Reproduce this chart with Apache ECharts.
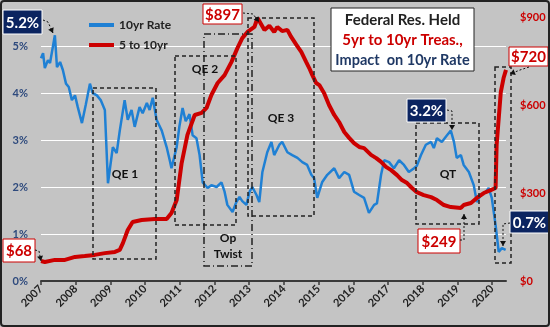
<!DOCTYPE html>
<html><head><meta charset="utf-8">
<script src="https://cdn.jsdelivr.net/npm/echarts@6/dist/echarts.min.js"></script>
<style>html,body{margin:0;padding:0;background:#fff}#c{width:550px;height:327px}</style>
</head><body><div id="c"></div>
<script>
// ---- data ----
const rateYears = [2007.00,2007.06,2007.11,2007.20,2007.26,2007.40,2007.46,2007.55,2007.63,2007.72,2007.80,2007.89,2007.98,2008.06,2008.18,2008.29,2008.41,2008.49,2008.61,2008.72,2008.84,2008.93,2009.07,2009.18,2009.27,2009.41,2009.50,2009.61,2009.70,2009.84,2009.93,2010.05,2010.13,2010.22,2010.33,2010.48,2010.62,2010.71,2010.76,2010.91,2010.99,2011.08,2011.17,2011.28,2011.37,2011.48,2011.57,2011.66,2011.80,2011.91,2012.06,2012.20,2012.29,2012.37,2012.52,2012.63,2012.72,2012.80,2012.92,2013.01,2013.09,2013.21,2013.29,2013.38,2013.52,2013.64,2013.72,2013.87,2013.95,2014.10,2014.24,2014.39,2014.53,2014.67,2014.79,2014.87,2014.96,2015.10,2015.25,2015.45,2015.59,2015.74,2015.88,2016.02,2016.17,2016.31,2016.45,2016.60,2016.68,2016.80,2016.89,2017.03,2017.17,2017.32,2017.46,2017.60,2017.75,2017.83,2017.95,2018.09,2018.24,2018.32,2018.41,2018.55,2018.70,2018.81,2018.90,2018.98,2019.10,2019.18,2019.33,2019.47,2019.56,2019.67,2019.82,2019.90,2019.99,2020.10,2020.19,2020.28,2020.39];
const rateValues = [4.74,4.85,4.53,4.70,4.64,5.23,4.55,4.66,4.49,4.20,4.13,3.85,3.95,3.70,3.36,3.75,4.20,4.00,3.95,3.85,3.64,2.08,2.85,2.72,3.20,3.85,3.43,3.64,3.28,3.70,3.57,3.79,3.64,3.90,3.43,3.20,2.85,2.57,2.40,2.85,3.30,3.68,3.40,3.55,3.10,3.04,2.68,2.10,1.98,2.04,2.00,2.10,1.90,1.62,1.47,1.68,1.79,1.70,1.62,1.90,2.00,1.83,1.68,2.32,2.74,2.96,2.68,2.90,2.96,2.74,2.68,2.62,2.53,2.47,2.26,2.19,1.77,2.10,2.26,2.40,2.19,2.32,2.26,1.90,1.83,1.77,1.45,1.62,1.65,2.26,2.57,2.53,2.40,2.57,2.47,2.32,2.40,2.45,2.68,2.90,2.96,2.83,3.04,2.96,3.10,3.20,2.96,2.62,2.68,2.47,2.32,2.04,1.68,1.83,1.90,1.98,1.77,1.19,0.62,0.70,0.66];
const holdYears = [2007.00,2007.11,2007.40,2007.69,2007.98,2008.26,2008.55,2008.84,2009.13,2009.27,2009.36,2009.50,2009.64,2009.90,2010.28,2010.62,2010.76,2010.91,2011.05,2011.22,2011.43,2011.63,2011.77,2011.91,2012.09,2012.29,2012.49,2012.66,2012.80,2012.95,2013.15,2013.24,2013.44,2013.58,2013.72,2013.81,2013.95,2014.10,2014.21,2014.36,2014.50,2014.64,2014.73,2014.82,2014.93,2015.02,2015.16,2015.30,2015.45,2015.59,2015.74,2015.88,2016.02,2016.17,2016.31,2016.51,2016.66,2016.80,2016.94,2017.09,2017.26,2017.40,2017.55,2017.69,2017.83,2018.03,2018.24,2018.41,2018.61,2018.81,2019.10,2019.18,2019.39,2019.56,2019.76,2019.96,2020.10,2020.13,2020.25,2020.33,2020.40];
const holdValues = [68,65,72,72,82,85,89,95,99,106,129,174,201,208,211,211,232,276,400,498,566,573,590,634,675,702,747,794,828,849,866,897,856,870,849,866,852,856,832,805,781,747,726,702,675,668,640,600,566,542,508,488,470,457,453,430,419,406,389,378,361,344,334,317,303,293,286,276,259,252,249,259,266,283,300,310,317,464,644,692,720];
const xTicks = [2007,2008,2009,2010,2011,2012,2013,2014,2015,2016,2017,2018,2019,2020];
const leftTicks = [0,1,2,3,4,5];
const rightTicks = [0,300,600,900];

// ---- chart ----
const FONT = 'Lato';
const chart = echarts.init(document.getElementById('c'), null, {renderer:'canvas'});
const option = {
  backgroundColor: '#c4c4c4',
  animation: false,
  textStyle: {fontFamily: FONT},
  grid: {left: 41, right: 44, top: 0, bottom: 46, containLabel: false, outerBoundsMode: 'none'},
  legend: {
    orient: 'vertical', left: 84, top: 13, itemWidth: 25, itemHeight: 4, itemGap: 6,
    icon: 'rect',
    textStyle: {fontFamily: FONT, fontWeight: 'bold', fontSize: 12, color: '#222', lineHeight: 14},
    data: ['10yr Rate', '5 to 10yr']
  },
  xAxis: {
    type: 'value', min: 2007, max: 2020.4, interval: 1,
    axisLine: {show: true, lineStyle: {color: '#3a3a3a', width: 2}},
    axisTick: {show: true, length: 4, lineStyle: {color: '#3a3a3a', width: 1.5}, customValues: xTicks},
    axisLabel: {rotate: 45, margin: 6, fontFamily: FONT, fontWeight: 'bold', fontSize: 11, color: '#222',
      customValues: xTicks, formatter: v => String(v)},
    splitLine: {show: false}
  },
  yAxis: [{
    type: 'value', min: 0, max: 5.98, interval: 1,
    axisLine: {show: false}, axisTick: {show: false},
    axisLabel: {margin: 13, fontFamily: FONT, fontWeight: 'bold', fontSize: 11, color: '#2e4a7d',
      customValues: leftTicks, formatter: v => v + '%'},
    splitLine: {show: true, lineStyle: {color: '#ffffff', width: 1}}
  }, {
    type: 'value', min: 0, max: 958, interval: 300, position: 'right',
    name: 'Billion', nameLocation: 'middle', nameRotate: 90, nameGap: 33,
    nameTextStyle: {fontFamily: FONT, fontWeight: 'bold', fontSize: 11, color: '#cc0000'},
    axisLine: {show: false}, axisTick: {show: false},
    axisLabel: {margin: 14, fontFamily: FONT, fontWeight: 'bold', fontSize: 11, color: '#cc0000',
      customValues: rightTicks, formatter: v => '$' + v},
    splitLine: {show: false}
  }],
  series: [{
    name: '10yr Rate', type: 'line', yAxisIndex: 0, showSymbol: false, symbol: 'none',
    color: '#1f80d4', lineStyle: {width: 2.5, color: '#1f80d4'},
    data: rateYears.map((y, i) => [y, rateValues[i]])
  }, {
    name: '5 to 10yr', type: 'line', yAxisIndex: 1, showSymbol: false, symbol: 'none',
    color: '#cc0000', lineStyle: {width: 4, color: '#cc0000'},
    data: holdYears.map((y, i) => [y, holdValues[i]])
  }]
};
chart.setOption(option);

// ---- annotations (pixel layout) ----
const g = [];
function dashBox(x, y, w, h, dash) {
  g.push({type: 'rect', shape: {x, y, width: w, height: h}, z: 50,
    style: {fill: 'none', stroke: '#222', lineWidth: 1.5, lineDash: dash}});
}
function label(text, x, y, size, color, z) {
  g.push({type: 'text', x, y, z: z || 60, style: {text, fontFamily: FONT, fontWeight: 'bold', fontSize: size || 12,
    fill: color || '#111', align: 'center', verticalAlign: 'middle'}});
}
function valBox(text, x, y, w, h, navy) {
  g.push({type: 'rect', shape: {x, y, width: w, height: h}, z: 70,
    style: {fill: navy ? '#0b2460' : '#ffffff', stroke: navy ? '#ffffff' : '#cc0000', lineWidth: 1}});
  g.push({type: 'text', x: x + w / 2, y: y + h / 2 + 1, z: 71, style: {text, fontFamily: FONT, fontWeight: 'bold',
    fontSize: 15, fill: navy ? '#ffffff' : '#cc0000', align: 'center', verticalAlign: 'middle'}});
}
function arrow(pts) {
  g.push({type: 'polyline', z: 72, shape: {points: pts}, style: {stroke: '#111', lineWidth: 1, lineDash: [2, 2], fill: 'none'}});
  const [x1, y1] = pts[pts.length - 2], [x2, y2] = pts[pts.length - 1];
  const a = Math.atan2(y2 - y1, x2 - x1), L = 5, W = 3;
  const bx = x2 - L * Math.cos(a), by = y2 - L * Math.sin(a);
  g.push({type: 'polygon', z: 72, shape: {points: [[x2, y2],
    [bx + W * Math.sin(a), by - W * Math.cos(a)], [bx - W * Math.sin(a), by + W * Math.cos(a)]]},
    style: {fill: '#111'}});
}
dashBox(93, 88, 63, 171, [4, 3]);
dashBox(175, 56, 61, 169, [4, 3]);
dashBox(204, 34, 48, 232, [7, 3, 1, 3]);
dashBox(248, 18, 66, 198, [4, 3]);
dashBox(416, 123, 63, 101, [4, 3]);
dashBox(495, 67, 16, 196, [4, 3]);
label('QE 1', 125, 174);
label('QE 2', 205, 69);
label('Op', 228, 238);
label('Twist', 228, 254);
label('QE 3', 281, 118);
label('QT', 448, 174);

// title box
g.push({type: 'rect', shape: {x: 331, y: 8, width: 143, height: 63}, z: 70,
  style: {fill: '#ffffff', stroke: '#222', lineWidth: 1}});
label('Federal Res. Held', 402.5, 20, 15, '#222', 75);
label('5yr to 10yr Treas.,', 402.5, 40, 15, '#cc0000', 75);
label('Impact  on 10yr Rate', 402.5, 60, 14.5, '#1f3864', 75);

valBox('5.2%', 3, 10, 39, 24, true);
arrow([[43, 20], [48, 22], [53, 33]]);
valBox('$897', 203, 4, 39, 20, false);
arrow([[243, 13], [253, 14], [259, 22]]);
valBox('$68', 3, 239, 32, 23, false);
arrow([[35, 250], [39, 251], [41, 261]]);
valBox('3.2%', 407, 99, 39, 23, true);
arrow([[447, 110], [452, 111], [452, 130]]);
valBox('$720', 509, 47, 39, 19, false);
arrow([[529, 67], [520, 70], [510, 74]]);
valBox('$249', 418, 229, 42, 24, false);
arrow([[460, 240], [464, 240], [464, 214]]);
valBox('0.7%', 510, 211, 39, 22, true);
arrow([[510, 223], [503, 224], [503, 246]]);

// outer border
g.push({type: 'rect', shape: {x: 1, y: 1, width: 548, height: 325, r: 3}, z: 100,
  style: {fill: 'none', stroke: '#222', lineWidth: 2}});
chart.setOption({graphic: g});
</script>
</body></html>
